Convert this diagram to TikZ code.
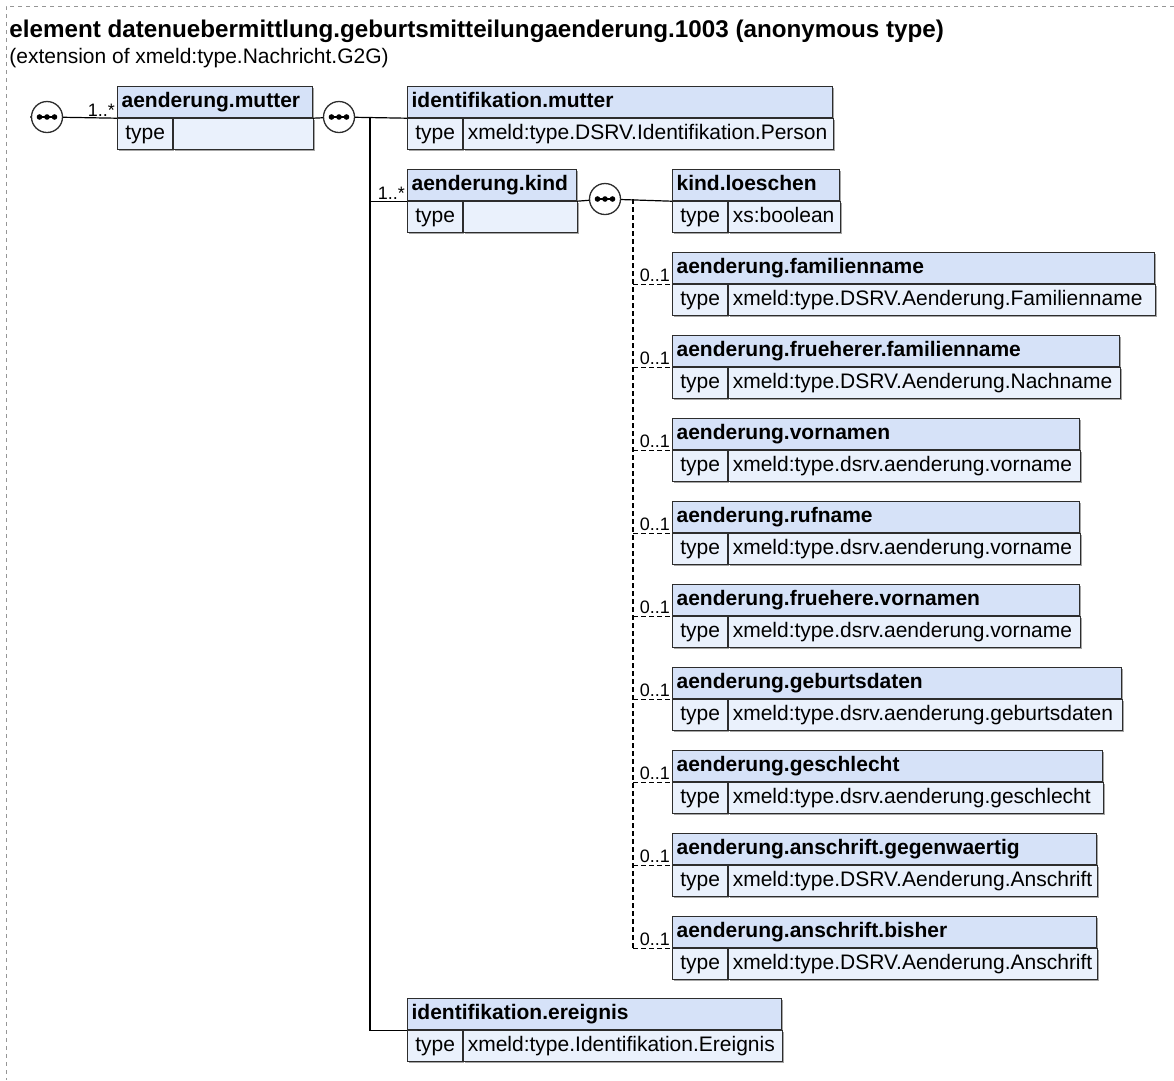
\documentclass[tikz,border=0pt]{standalone}
\usepackage{fontspec}
\setmainfont{Liberation Sans}
\usepackage{xcolor}
\definecolor{hdblue}{RGB}{214,226,248}
\definecolor{bdblue}{RGB}{234,241,252}
\definecolor{edgegray}{RGB}{45,45,45}
\definecolor{framegray}{RGB}{150,150,150}
\usepackage{tikz}
\usetikzlibrary{shadows}

% one element box: name, position, width, title, type
\newcommand{\elbox}[5]{%
  \pgfmathsetmacro\hdw{#3-9}%
  \pgfmathsetmacro\vlw{#3-55-9}%
  \node[hd,text width=\hdw pt] (#1) at (#2) {#4};
  \node[ty] (#1t) at (#1.south west) {type};
  \node[tv,text width=\vlw pt] (#1v) at (#1t.north east) {#5};
}

\begin{document}
\begin{tikzpicture}[x=1pt,y=-1pt,thick]
	\tikzstyle{shd}=[drop shadow={shadow xshift=1.5pt,shadow yshift=-1.5pt,opacity=.35,fill=black}];
	\tikzstyle{hd}=[draw=edgegray,fill=hdblue,line width=1.2pt,anchor=north west,minimum height=31pt,inner xsep=4pt,inner ysep=0pt,text height=16pt,text depth=5pt,font=\fontsize{21}{25}\selectfont\bfseries,shd];
	\tikzstyle{ty}=[draw=edgegray,fill=bdblue,line width=1.2pt,anchor=north west,minimum height=31pt,minimum width=55pt,inner xsep=4pt,inner ysep=0pt,text height=16pt,text depth=5pt,font=\fontsize{21}{25}\selectfont,shd];
	\tikzstyle{tv}=[ty,minimum width=0pt];
	\tikzstyle{seq}=[circle,draw=edgegray,fill=white,line width=1.3pt,minimum size=31pt,inner sep=0pt];
	\tikzstyle{conn}=[line width=1.2pt,draw=black];
	\tikzstyle{opt}=[conn,dash pattern=on 5pt off 3pt];
	\tikzstyle{mult}=[anchor=south east,inner sep=1.5pt,font=\fontsize{18}{21}\selectfont];
	\useasboundingbox (0,0) rectangle (1174,1080);
	\draw[framegray,line width=1pt,dash pattern=on 4pt off 4pt] (1174,6) -- (6,6) -- (6,1080);
	\node[anchor=base west,inner sep=0pt,font=\fontsize{24.2}{28}\selectfont\bfseries] (title) at (9,37) {element datenuebermittlung.geburtsmitteilungaenderung.1003 (anonymous type)};
	\node[anchor=base west,inner sep=0pt,font=\fontsize{21}{25}\selectfont] (subtitle) at (9,63) {(extension of xmeld:type.Nachricht.G2G)};
	% boxes
	\elbox{mutter}{117,86}{196}{aenderung.mutter}{}
	\elbox{identm}{407,86}{426}{identifikation.mutter}{xmeld:type.DSRV.Identifikation.Person}
	\elbox{kind}{407,169}{170}{aenderung.kind}{}
	\elbox{loeschen}{672,169}{168}{kind.loeschen}{xs:boolean}
	\foreach \y/\w/\nm/\ty [count=\i] in {
		252/483/aenderung.familienname/xmeld:type.DSRV.Aenderung.Familienname,
		335/448/aenderung.frueherer.familienname/xmeld:type.DSRV.Aenderung.Nachname,
		418/408/aenderung.vornamen/xmeld:type.dsrv.aenderung.vorname,
		501/408/aenderung.rufname/xmeld:type.dsrv.aenderung.vorname,
		584/408/aenderung.fruehere.vornamen/xmeld:type.dsrv.aenderung.vorname,
		667/450/aenderung.geburtsdaten/xmeld:type.dsrv.aenderung.geburtsdaten,
		750/431/aenderung.geschlecht/xmeld:type.dsrv.aenderung.geschlecht,
		833/425/aenderung.anschrift.gegenwaertig/xmeld:type.DSRV.Aenderung.Anschrift,
		916/425/aenderung.anschrift.bisher/xmeld:type.DSRV.Aenderung.Anschrift}
	{\elbox{o\i}{672,\y}{\w}{\nm}{\ty}}
	\elbox{ereignis}{407,998}{375}{identifikation.ereignis}{xmeld:type.Identifikation.Ereignis}
	% compositors
	\coordinate (in) at (30,117);
	\coordinate (trunk) at (370,117);
	\coordinate (ktrunk) at (633,199);
	\node[seq] (s0) at (47,117) {};
	\node[seq] (s1) at (339,117) {};
	\node[seq] (s2) at (605,199) {};
	\foreach \s in {s0,s1,s2}{
		\draw[line width=1.3pt] (\s.center) +(-8,0) -- +(8,0);
		\foreach \d in {-7.5,0,7.5}
			\fill (\s.center) +(\d,0) circle (2.8pt);
	}
	% connectors
	\draw[conn] (in) -- (s0) -- (mutter.south west) node[mult] {1..*};
	\draw[conn] (mutter.south east) -- (s1) -- (identm.south west);
	\draw[conn] (trunk) |- (ereignis.south west);
	\draw[conn] (trunk |- kind.south west) -- (kind.south west) node[mult] {1..*};
	\draw[conn] (kind.south east) -- (s2) -- (loeschen.south west);
	\draw[opt] (ktrunk) -- (ktrunk |- o9.south west);
	\foreach \i in {1,...,9}
		\draw[opt] (ktrunk |- o\i.south west) -- (o\i.south west) node[mult] {0..1};
\end{tikzpicture}
\end{document}
